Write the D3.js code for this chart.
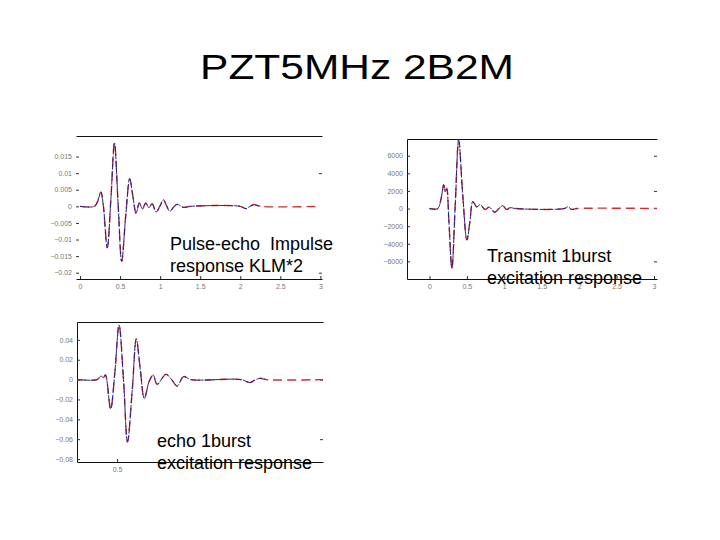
<!DOCTYPE html>
<meta charset="utf-8">
<style>
body { margin: 0; background: #fff; }
svg { font-family: "Liberation Sans", Arial, sans-serif; }
.tick text { font-size: 7px; fill: #777; }
.tick line { stroke: #333; }
.klm { fill: none; stroke: #23238c; stroke-width: 1; stroke-dasharray: 6,1.5; }
.meas { fill: none; stroke: #cc3333; stroke-width: 1.4; stroke-dasharray: 9,5; }
.note { font-size: 18px; fill: #000; white-space: pre; }
</style>
<svg width="720" height="540"></svg>
<script src="https://d3js.org/d3.v7.min.js"></script>
<script>

// pulse-echo impulse response (KLM*2), time in us
var pulseT = [0, 0.18, 0.22, 0.26, 0.29, 0.34, 0.385, 0.43, 0.475, 0.52, 0.57, 0.62, 0.66, 0.70, 0.74, 0.78,
              0.82, 0.86, 0.90, 0.95, 1.00, 1.04, 1.08, 1.12, 1.17, 1.21, 1.29, 1.38, 2.00, 2.07, 2.12, 2.17, 2.25, 3.0];
var pulseV = [0, 0, 0.0015, 0.0043, 0.0005, -0.0125, 0.002, 0.0191, 0.001, -0.0166, -0.003, 0.0083, 0.003, -0.0021, 0.0010, -0.0008,
              0.0010, -0.0004, 0.0008, -0.0017, 0.0002, 0.0020, 0.0002, -0.0015, -0.0002, 0.0006, -0.0003, 0, 0, -0.0007, 0, 0.0005, 0, 0];

// transmit 1 burst excitation response
var txT = [0, 0.11, 0.15, 0.19, 0.21, 0.23, 0.26, 0.30, 0.345, 0.39, 0.445, 0.50, 0.54, 0.58, 0.63, 0.68,
           0.74, 0.80, 0.87, 0.93, 0.98, 1.03, 1.08, 1.15, 1.80, 1.85, 1.90, 1.97, 3.04];
var txV = [0, 0, 900, 2700, 1900, 2300, -1500, -6790, 500, 7800, 1500, -3570, -1500, 790, 200, 450,
           -100, 150, -420, 0, 330, -100, 100, 0, 0, 200, -100, 0, 0];

// echo 1 burst excitation response
var echoT = [0, 0.25, 0.30, 0.33, 0.355, 0.42, 0.47, 0.525, 0.58, 0.63, 0.69, 0.74, 0.79, 0.84, 0.90, 0.95,
             1.00, 1.11, 1.18, 1.25, 1.33, 1.42, 2.05, 2.16, 2.23, 2.29, 2.36, 3.07];
var echoV = [0, 0, 0.0035, 0.002, 0.0048, -0.0296, 0.005, 0.055, 0.0, -0.063, -0.01, 0.041, 0.01, -0.019, -0.002, 0.0046,
             -0.0047, 0.0053, 0.0, -0.0064, 0.003, 0, 0, -0.003, 0, 0.0013, 0, 0];

// KLM curve stops earlier than the measured one
var klmEnd = [2.25, 2.0, 2.36];

var pulseYTicks = [-0.02, -0.015, -0.01, -0.005, 0, 0.005, 0.01, 0.015];
var txYTicks = [-6000, -4000, -2000, 0, 2000, 4000, 6000];
var echoYTicks = [-0.08, -0.06, -0.04, -0.02, 0, 0.02, 0.04];
var timeTicks = [0, 0.5, 1, 1.5, 2, 2.5, 3];
var echoXTicks = [0.5];

var svg = d3.select("svg");
var fmt = d3.format("");

// title glyphs are a little wider than plain Arial
svg.append("text")
    .attr("transform", "translate(357,79) scale(1.18,1)")
    .attr("text-anchor", "middle")
    .style("font-size", "36px")
    .text("PZT5MHz 2B2M");

function panel(cfg) {
  var x = d3.scaleLinear().domain(cfg.xDom).range([cfg.left, cfg.right]);
  var y = d3.scaleLinear().domain(cfg.yDom).range([cfg.bottom, cfg.top]);
  var g = svg.append("g");

  // top border
  g.append("g")
      .attr("transform", "translate(0," + cfg.top + ")")
      .call(d3.axisTop(x).tickValues([]).tickSizeOuter(0))
      .select(".domain").attr("stroke", "#111");

  // right side ticks only
  var r = g.append("g")
      .attr("transform", "translate(" + cfg.right + ",0)")
      .call(d3.axisRight(y).tickValues(cfg.rightTicks).tickSize(-3).tickFormat(""));
  r.select(".domain").remove();

  var xa = g.append("g")
      .attr("transform", "translate(0," + cfg.bottom + ")")
      .call(d3.axisBottom(x).tickValues(cfg.xTicks).tickFormat(fmt)
        .tickSize(-3).tickSizeOuter(0).tickPadding(5));
  xa.select(".domain").attr("stroke", "#111");

  var ya = g.append("g")
      .attr("transform", "translate(" + cfg.left + ",0)")
      .call(d3.axisLeft(y).tickValues(cfg.yTicks).tickFormat(fmt)
        .tickSize(-3).tickSizeOuter(0).tickPadding(4));
  ya.select(".domain").attr("stroke", cfg.leftLine ? "#111" : "none");

  var line = d3.line()
      .x(function(d) { return x(d[0]); })
      .y(function(d) { return y(d[1]); })
      .curve(d3.curveCatmullRom.alpha(0.5));

  var pts = d3.zip(cfg.t, cfg.v);
  g.append("path").attr("class", "meas").attr("d", line(pts));
  g.append("path").attr("class", "klm")
      .attr("d", line(pts.filter(function(d) { return d[0] <= cfg.klmEnd; })));

  cfg.note.forEach(function(s, i) {
    g.append("text")
        .attr("class", "note")
        .attr("x", cfg.noteX)
        .attr("y", cfg.noteY + i * 21.5)
        .text(s);
  });
}

panel({
  t: pulseT, v: pulseV, klmEnd: klmEnd[0],
  xDom: [-0.05, 3.02], yDom: [-0.0219, 0.0212],
  left: 76, right: 322, top: 136, bottom: 279,
  xTicks: timeTicks, yTicks: pulseYTicks, rightTicks: [0.01, -0.01, -0.02],
  leftLine: false,
  note: ["Pulse-echo  Impulse", "response KLM*2"], noteX: 170, noteY: 250
});

panel({
  t: txT, v: txV, klmEnd: klmEnd[1],
  xDom: [-0.3, 3.04], yDom: [-8000, 7900],
  left: 407, right: 657, top: 139, bottom: 279,
  xTicks: timeTicks, yTicks: txYTicks, rightTicks: [6000, 2000, -6000],
  leftLine: true,
  note: ["Transmit 1burst", "excitation response"], noteX: 487, noteY: 262
});

panel({
  t: echoT, v: echoV, klmEnd: klmEnd[2],
  xDom: [0, 3.07], yDom: [-0.083, 0.058],
  left: 77, right: 323, top: 322, bottom: 462,
  xTicks: echoXTicks, yTicks: echoYTicks, rightTicks: [0, -0.06],
  leftLine: true,
  note: ["echo 1burst", "excitation response"], noteX: 157, noteY: 447
});

</script>
